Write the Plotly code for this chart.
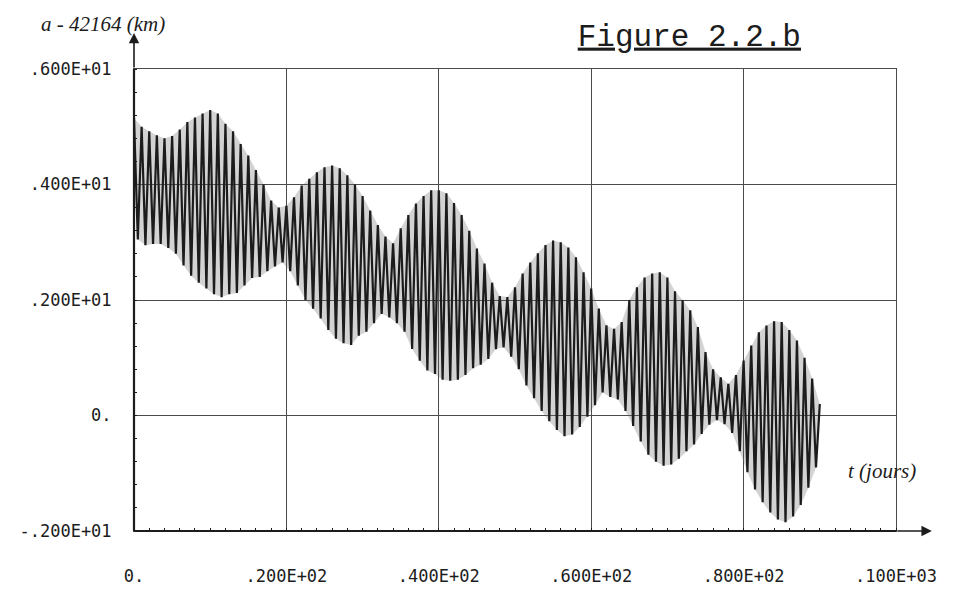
"""Figure 2.2.b: a - 42164 km versus time (days), plotter-style rendering."""

import numpy as np
import plotly.graph_objects as go

# Daily extrema of the oscillating semi-major axis (km).
# highs: day 0..90 (one per day); lows: between successive highs (day + 0.5).
highs = [
    5.15, 5.00, 4.92, 4.85, 4.80, 4.84, 4.95, 5.08, 5.16, 5.23,
    5.29, 5.23, 5.05, 4.92, 4.70, 4.50, 4.25, 4.00, 3.72, 3.60,
    3.63, 3.78, 3.98, 4.10, 4.21, 4.30, 4.33, 4.28, 4.16, 4.00,
    3.80, 3.55, 3.30, 3.10, 2.98, 3.24, 3.47, 3.67, 3.80, 3.90,
    3.90, 3.85, 3.68, 3.47, 3.20, 2.89, 2.63, 2.30, 2.07, 2.05,
    2.22, 2.46, 2.65, 2.81, 2.95, 3.03, 3.00, 2.91, 2.74, 2.48,
    2.20, 1.85, 1.56, 1.50, 1.62, 2.00, 2.22, 2.39, 2.46, 2.48,
    2.39, 2.15, 2.00, 1.82, 1.53, 1.10, 0.80, 0.66, 0.55, 0.70,
    0.95, 1.21, 1.44, 1.56, 1.63, 1.62, 1.48, 1.30, 1.00, 0.64,
    0.20,
]
lows = [
    3.05, 2.95, 2.97, 2.97, 2.90, 2.80, 2.60, 2.42, 2.30, 2.20,
    2.10, 2.05, 2.10, 2.12, 2.25, 2.38, 2.40, 2.50, 2.58, 2.65,
    2.50, 2.25, 2.00, 1.85, 1.68, 1.48, 1.33, 1.25, 1.22, 1.38,
    1.45, 1.60, 1.76, 1.70, 1.60, 1.45, 1.15, 0.95, 0.78, 0.72,
    0.62, 0.60, 0.62, 0.70, 0.82, 0.88, 0.98, 1.15, 1.18, 1.02,
    0.80, 0.52, 0.30, 0.08, -0.10, -0.25, -0.36, -0.33, -0.20, -0.02,
    0.18, 0.40, 0.32, 0.28, 0.08, -0.18, -0.45, -0.68, -0.80, -0.87,
    -0.85, -0.75, -0.62, -0.50, -0.32, -0.16, -0.08, -0.15, -0.30, -0.62,
    -0.98, -1.28, -1.50, -1.68, -1.80, -1.85, -1.75, -1.55, -1.25, -0.90,
]

x_ticks = [0, 20, 40, 60, 80, 100]
x_labels = ["0.", ".200E+02", ".400E+02", ".600E+02", ".800E+02", ".100E+03"]
y_ticks = [-2, 0, 2, 4, 6]
y_labels = ["-.200E+01", "0.", ".200E+01", ".400E+01", ".600E+01"]

# interleave highs and lows into one zig-zag time series
hi_t = np.arange(len(highs), dtype=float)
lo_t = np.arange(len(lows), dtype=float) + 0.5
t = np.empty(len(highs) + len(lows))
a = np.empty_like(t)
t[0::2], a[0::2] = hi_t, highs
t[1::2], a[1::2] = lo_t, lows

INK = "#1c1c1c"
MONO = "DejaVu Sans Mono"
HAND = dict(family="Liberation Serif", size=21, color=INK, style="italic")

fig = go.Figure()

# grey half-tone between the envelopes, as on the scan
fig.add_trace(go.Scatter(x=hi_t, y=highs, mode="lines", line=dict(width=0),
                         hoverinfo="skip", showlegend=False))
fig.add_trace(go.Scatter(x=lo_t, y=lows, mode="lines", line=dict(width=0),
                         fill="tonexty", fillcolor="rgba(110,110,110,0.30)",
                         hoverinfo="skip", showlegend=False))

fig.add_trace(go.Scatter(
    x=t, y=a, mode="lines",
    line=dict(color=INK, width=2.2),
    showlegend=False,
    hovertemplate="t=%{x:.1f} j<br>a-42164=%{y:.2f} km<extra></extra>",
))

axis_common = dict(
    showgrid=True, gridcolor="#4a4a4a", gridwidth=1,
    zeroline=False, automargin=False,
    showline=True, linecolor="#4a4a4a", linewidth=1, mirror=True,
    ticks="", tickfont=dict(family=MONO, size=17, color=INK),
)

fig.update_xaxes(
    range=[0, 100], tickvals=x_ticks, ticktext=x_labels,
    ticklabelstandoff=30,
    minor=dict(dtick=2, ticks="inside", ticklen=3, tickcolor=INK, showgrid=False),
    **axis_common,
)
fig.update_yaxes(
    range=[-2, 6], tickvals=y_ticks, ticktext=y_labels,
    ticklabelstandoff=18,
    minor=dict(dtick=0.4, ticks="inside", ticklen=3, tickcolor=INK, showgrid=False),
    **axis_common,
)

# heavy left / bottom axes as drawn by the plotter
fig.add_shape(type="line", xref="paper", yref="paper", x0=0, x1=0, y0=0, y1=1,
              line=dict(color=INK, width=2.2))
fig.add_shape(type="line", xref="paper", yref="paper", x0=0, x1=1, y0=0, y1=0,
              line=dict(color=INK, width=2.2))

# axis arrows
fig.add_annotation(xref="paper", yref="paper", x=0, y=1.078, ax=0, ay=36,
                   text="", showarrow=True, arrowhead=2, arrowsize=1.3,
                   arrowwidth=1.6, arrowcolor=INK)
fig.add_annotation(xref="paper", yref="paper", x=1.047, y=0, ax=-36, ay=0,
                   text="", showarrow=True, arrowhead=2, arrowsize=1.3,
                   arrowwidth=1.6, arrowcolor=INK)

# handwritten axis names
fig.add_annotation(xref="paper", yref="paper", x=-0.125, y=1.098,
                   xanchor="left", yanchor="middle", showarrow=False,
                   text="a - 42164 (km)", font=HAND)
fig.add_annotation(xref="paper", yref="paper", x=0.935, y=0.13,
                   xanchor="left", yanchor="middle", showarrow=False,
                   text="t (jours)", font=HAND)

fig.update_layout(
    title=dict(text="<u>Figure 2.2.b</u>", x=0.591, xanchor="left",
               y=0.954, yanchor="middle",
               font=dict(family="Liberation Mono", size=31, color=INK)),
    width=964, height=582,
    margin=dict(l=126, r=76, t=61, b=59),
    paper_bgcolor="white", plot_bgcolor="white",
)

fig.write_html("out.html")
